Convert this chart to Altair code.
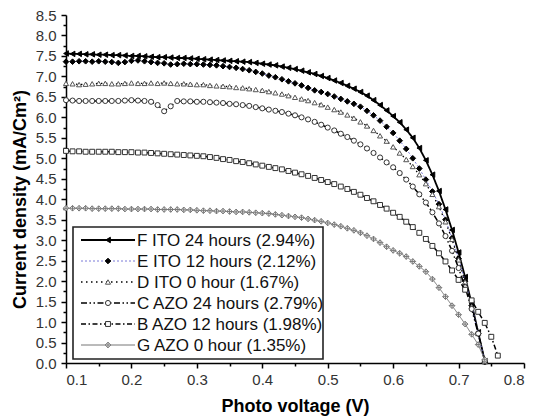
import altair as alt
import pandas as pd

# Photo voltage grid (V), shared by all J-V sweeps
voltage = [0.10, 0.11, 0.12, 0.13, 0.14, 0.15, 0.16, 0.17, 0.18, 0.19,
           0.20, 0.21, 0.22, 0.23, 0.24, 0.25, 0.26, 0.27, 0.28, 0.29,
           0.30, 0.31, 0.32, 0.33, 0.34, 0.35, 0.36, 0.37, 0.38, 0.39,
           0.40, 0.41, 0.42, 0.43, 0.44, 0.45, 0.46, 0.47, 0.48, 0.49,
           0.50, 0.51, 0.52, 0.53, 0.54, 0.55, 0.56, 0.57, 0.58, 0.59,
           0.60, 0.61, 0.62, 0.63, 0.64, 0.65, 0.66, 0.67, 0.68, 0.69,
           0.70, 0.71, 0.72, 0.73, 0.74, 0.75, 0.76]

# Current density (mA/cm2) for each device
j_f_ito_24 = [7.56, 7.55, 7.55, 7.54, 7.54, 7.53, 7.53, 7.52, 7.52, 7.51,
              7.50, 7.50, 7.49, 7.48, 7.47, 7.47, 7.46, 7.45, 7.45, 7.44,
              7.43, 7.42, 7.41, 7.40, 7.39, 7.38, 7.37, 7.36, 7.35, 7.33,
              7.31, 7.29, 7.27, 7.24, 7.21, 7.18, 7.14, 7.10, 7.06, 7.01,
              6.96, 6.90, 6.84, 6.77, 6.70, 6.62, 6.53, 6.42, 6.30, 6.17,
              6.03, 5.88, 5.70, 5.50, 5.25, 4.95, 4.60, 4.20, 3.75, 3.25,
              2.70, 2.10, 1.45, 0.75, 0.05]

j_e_ito_12 = [7.36, 7.36, 7.37, 7.37, 7.36, 7.37, 7.36, 7.35, 7.33, 7.35,
              7.38, 7.39, 7.37, 7.35, 7.33, 7.32, 7.29, 7.30, 7.31, 7.30,
              7.30, 7.29, 7.28, 7.27, 7.25, 7.23, 7.21, 7.18, 7.15, 7.11,
              7.07, 7.02, 6.98, 6.93, 6.88, 6.83, 6.78, 6.72, 6.66, 6.62,
              6.57, 6.51, 6.45, 6.39, 6.33, 6.26, 6.16, 6.05, 5.92, 5.77,
              5.62, 5.43, 5.23, 5.00, 4.75, 4.48, 4.19, 3.88, 3.50, 3.05,
              2.55, 2.00, 1.40, 0.72, 0.02]

j_d_ito_0 = [6.83, 6.82, 6.80, 6.81, 6.82, 6.83, 6.83, 6.82, 6.82, 6.83,
             6.84, 6.83, 6.83, 6.84, 6.83, 6.84, 6.83, 6.82, 6.82, 6.81,
             6.80, 6.80, 6.78, 6.77, 6.76, 6.75, 6.73, 6.72, 6.70, 6.68,
             6.66, 6.63, 6.60, 6.57, 6.53, 6.49, 6.45, 6.41, 6.36, 6.31,
             6.25, 6.19, 6.13, 6.06, 5.98, 5.89, 5.79, 5.68, 5.55, 5.42,
             5.28, 5.13, 4.97, 4.80, 4.60, 4.38, 4.12, 3.82, 3.45, 3.02,
             2.52, 1.98, 1.38, 0.72, 0.03]

j_c_azo_24 = [6.42, 6.41, 6.40, 6.40, 6.40, 6.40, 6.40, 6.40, 6.40, 6.41,
              6.42, 6.41, 6.40, 6.38, 6.30, 6.15, 6.27, 6.40, 6.39, 6.39,
              6.38, 6.38, 6.37, 6.36, 6.35, 6.33, 6.32, 6.30, 6.28, 6.25,
              6.22, 6.19, 6.16, 6.13, 6.09, 6.05, 6.00, 5.95, 5.89, 5.82,
              5.75, 5.68, 5.60, 5.52, 5.43, 5.34, 5.24, 5.13, 5.02, 4.90,
              4.78, 4.64, 4.48, 4.31, 4.12, 3.92, 3.68, 3.41, 3.10, 2.74,
              2.32, 1.85, 1.32, 0.72, 0.05]

j_b_azo_12 = [5.18, 5.17, 5.17, 5.16, 5.16, 5.16, 5.16, 5.16, 5.15, 5.15,
              5.15, 5.14, 5.14, 5.13, 5.12, 5.11, 5.10, 5.09, 5.08, 5.07,
              5.06, 5.05, 5.03, 5.01, 4.98, 4.96, 4.93, 4.91, 4.88, 4.85,
              4.82, 4.79, 4.76, 4.73, 4.69, 4.65, 4.61, 4.57, 4.52, 4.47,
              4.42, 4.37, 4.31, 4.25, 4.18, 4.11, 4.03, 3.95, 3.86, 3.77,
              3.67, 3.57, 3.45, 3.32, 3.18, 3.03, 2.86, 2.68, 2.48, 2.26,
              2.03, 1.79, 1.53, 1.25, 0.98, 0.64, 0.18]

j_g_azo_0 = [3.78, 3.78, 3.78, 3.78, 3.77, 3.77, 3.77, 3.77, 3.77, 3.76,
             3.76, 3.76, 3.76, 3.76, 3.75, 3.75, 3.75, 3.75, 3.74, 3.74,
             3.73, 3.72, 3.72, 3.71, 3.71, 3.70, 3.69, 3.69, 3.68, 3.67,
             3.66, 3.65, 3.63, 3.61, 3.59, 3.57, 3.55, 3.52, 3.49, 3.46,
             3.42, 3.38, 3.34, 3.29, 3.24, 3.18, 3.11, 3.03, 2.94, 2.84,
             2.75, 2.68, 2.60, 2.48, 2.36, 2.23, 2.05, 1.84, 1.62, 1.40,
             1.18, 0.95, 0.70, 0.45, 0.08]

labels = ["F ITO 24 hours (2.94%)", "E ITO 12 hours (2.12%)", "D ITO 0 hour (1.67%)",
          "C AZO 24 hours (2.79%)", "B AZO 12 hours (1.98%)", "G AZO 0 hour (1.35%)"]
series_values = [j_f_ito_24, j_e_ito_12, j_d_ito_0, j_c_azo_24, j_b_azo_12, j_g_azo_0]

x_major = [0.1, 0.2, 0.3, 0.4, 0.5, 0.6, 0.7, 0.8]
x_minor = [0.15, 0.25, 0.35, 0.45, 0.55, 0.65, 0.75]
y_major = [0.0, 0.5, 1.0, 1.5, 2.0, 2.5, 3.0, 3.5, 4.0, 4.5, 5.0, 5.5,
           6.0, 6.5, 7.0, 7.5, 8.0, 8.5]
y_minor = [0.25, 0.75, 1.25, 1.75, 2.25, 2.75, 3.25, 3.75, 4.25, 4.75,
           5.25, 5.75, 6.25, 6.75, 7.25, 7.75, 8.25]

# Drawing style of each sweep: line and marker
CROSS_DIAMOND = "M0,-1L1,0L0,1L-1,0Z M0,-1L0,1 M-1,0L1,0"
styles = [
    dict(line="black", width=1.8, dash=[1, 0], shape="triangle-left", fill="black", stroke="black", size=30),
    dict(line="#7a7ad8", width=1.0, dash=[2, 2], shape="diamond", fill="black", stroke="black", size=32),
    dict(line="black", width=1.3, dash=[1.5, 3.5], shape="triangle-up", fill="white", stroke="#555555", size=26),
    dict(line="black", width=1.5, dash=[6, 2.5, 1.5, 2.5, 1.5, 2.5], shape="circle", fill="white", stroke="#333333", size=26),
    dict(line="black", width=1.5, dash=[5, 2.5, 1.5, 2.5], shape="square", fill="white", stroke="#333333", size=24),
    dict(line="#777777", width=1.0, dash=[1, 0], shape=CROSS_DIAMOND, fill="white", stroke="#777777", size=32),
]

FONT = "Liberation Sans"
W, H = 458, 348

x_scale = alt.Scale(domain=[0.1, 0.8], nice=False, zero=False)
y_scale = alt.Scale(domain=[0, 8.5], nice=False, zero=False)

# Axis layer: major ticks with labels, then a second one with minor ticks only
axis_df = pd.DataFrame({"V": voltage[:1], "J": [0.0]})
major_axes = alt.Chart(axis_df).mark_point(opacity=0).encode(
    x=alt.X("V:Q", scale=x_scale,
            axis=alt.Axis(values=x_major, format=".1f", orient="bottom",
                          title="Photo voltage (V)", tickSize=5, labelPadding=4,
                          titlePadding=10)),
    y=alt.Y("J:Q", scale=y_scale,
            axis=alt.Axis(values=y_major, format=".1f", orient="left",
                          title="Current density (mA/Cm²)", tickSize=5,
                          labelPadding=5, titlePadding=6, titleY=184)),
)
minor_axes = alt.Chart(axis_df).mark_point(opacity=0).encode(
    x=alt.X("V:Q", scale=x_scale,
            axis=alt.Axis(values=x_minor, labels=False, tickSize=3, domain=False,
                          orient="bottom", title=None)),
    y=alt.Y("J:Q", scale=y_scale,
            axis=alt.Axis(values=y_minor, labels=False, tickSize=3, domain=False,
                          orient="left", title=None)),
)

layers = [major_axes, minor_axes]
for lab, vals, st in zip(labels, series_values, styles):
    df = pd.DataFrame({"V": voltage[:len(vals)], "J": vals, "device": lab})
    base = alt.Chart(df)
    enc = dict(x=alt.X("V:Q", scale=x_scale, axis=None),
               y=alt.Y("J:Q", scale=y_scale, axis=None))
    line = base.mark_line(color=st["line"], strokeWidth=st["width"],
                          strokeDash=st["dash"]).encode(**enc)
    pts = base.mark_point(shape=st["shape"], size=st["size"], fill=st["fill"],
                          fillOpacity=1, stroke=st["stroke"], strokeWidth=1,
                          opacity=1).encode(**enc)
    layers += [line, pts]

# Legend box drawn inside the plot, lower left
one = pd.DataFrame({"k": [0]})
BOX_X0, BOX_X1, BOX_Y0, BOX_Y1 = 7, 257, 212, 344
ROW_Y0, ROW_STEP = 225, 21
SAMPLE_X0, SAMPLE_X1, SAMPLE_XM, TEXT_X = 15, 69, 42, 71

legend = [alt.Chart(one).mark_rect(fill="white", stroke="#222222", strokeWidth=1.6).encode(
    x=alt.value(BOX_X0), x2=alt.value(BOX_X1), y=alt.value(BOX_Y0), y2=alt.value(BOX_Y1))]
for i, (lab, st) in enumerate(zip(labels, styles)):
    ry = ROW_Y0 + ROW_STEP * i
    legend.append(alt.Chart(one).mark_rule(color=st["line"], strokeWidth=st["width"],
                                           strokeDash=st["dash"]).encode(
        x=alt.value(SAMPLE_X0), x2=alt.value(SAMPLE_X1), y=alt.value(ry)))
    legend.append(alt.Chart(one).mark_point(shape=st["shape"], size=st["size"], fill=st["fill"],
                                            fillOpacity=1, stroke=st["stroke"], strokeWidth=1,
                                            opacity=1).encode(
        x=alt.value(SAMPLE_XM), y=alt.value(ry)))
    legend.append(alt.Chart(one).mark_text(align="left", baseline="middle", font=FONT,
                                           fontSize=17, color="#111111").encode(
        x=alt.value(TEXT_X), y=alt.value(ry + 1), text=alt.value(lab)))

chart = alt.layer(*layers, *legend).resolve_axis(
    x="independent", y="independent"
).properties(
    width=W, height=H,
    autosize=alt.AutoSizeParams(type="none"),
    padding={"left": 66, "top": 15, "right": 10, "bottom": 57},
).configure_view(stroke=None).configure_axis(
    domainColor="black", domainWidth=1.5, tickColor="black", tickWidth=1.5,
    labelFont=FONT, labelFontSize=15, labelColor="#333333",
    titleFont=FONT, titleFontSize=18, titleFontWeight="bold", titleColor="black",
    grid=False,
)

chart.save("out.html", embed_options={"renderer": "svg", "actions": False})
